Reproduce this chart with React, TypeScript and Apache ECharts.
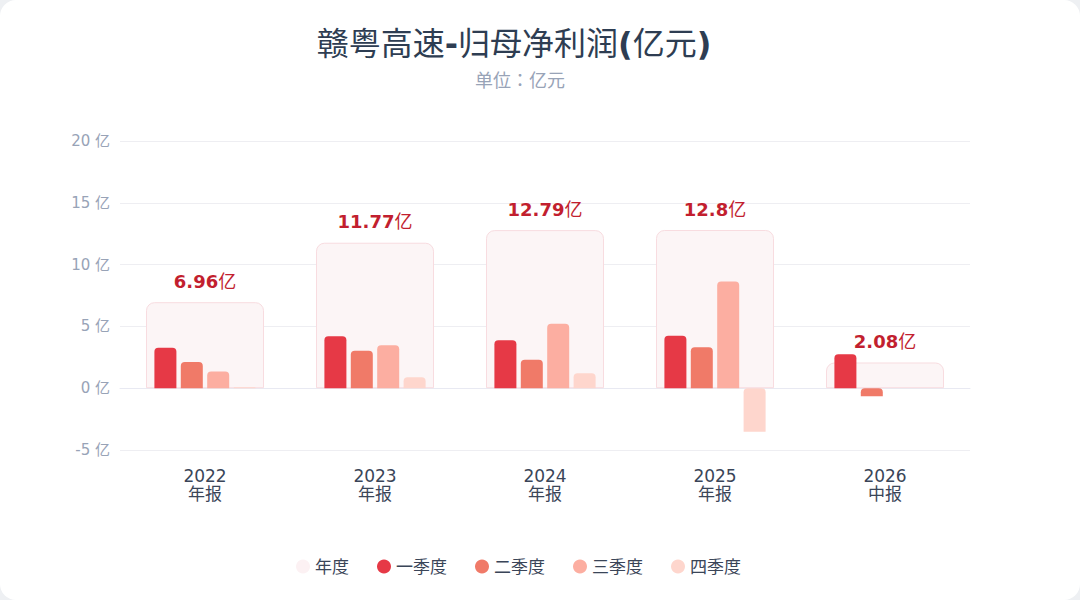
import React, { useEffect, useRef } from "react";
import * as echarts from "echarts";

const categories = ["2022\n年报", "2023\n年报", "2024\n年报", "2025\n年报", "2026\n中报"];
const annual = [6.96, 11.77, 12.79, 12.8, 2.08];
const q1 = [3.28, 4.2, 3.87, 4.25, 2.74];
const q2 = [2.12, 3.04, 2.31, 3.31, -0.66];
const q3 = [1.35, 3.47, 5.22, 8.63, null];
const q4 = [0.08, 0.89, 1.21, -3.52, null];
const yTicks = { min: -5, max: 20, interval: 5 };

export default function App() {
  const ref = useRef<HTMLDivElement>(null);
  useEffect(() => {
    document.body.style.margin = "0";
    document.body.style.background = "#eef0f3";
    const chart = echarts.init(ref.current!, undefined, { renderer: "svg" });
    const font = "'DejaVu Sans', 'Noto Sans CJK JP', sans-serif";
    const qBar = (name: string, data: (number | null)[], color: string) => ({
      name,
      type: "bar",
      xAxisIndex: 0,
      data,
      barWidth: 22,
      barGap: "20%",
      z: 3,
      itemStyle: { color, borderRadius: [4, 4, 0, 0] },
    });
    const titleColor = "#2e3d52";
    const labelColor = "#c21f2f";
    chart.setOption({
      animation: false,
      textStyle: { fontFamily: font },
      title: [
        {
          text: "{n|赣粤高速}{b|-}{n|归母净利润}{b|(}{n|亿元}{b|)}",
          left: 509,
          textAlign: "center",
          top: 23,
          textStyle: {
            fontSize: 32,
            color: titleColor,
            fontFamily: font,
            rich: {
              n: { fontSize: 32, color: titleColor, fontWeight: "normal", fontFamily: font },
              b: { fontSize: 32, color: titleColor, fontWeight: "bold", fontFamily: font },
            },
          },
        },
        {
          text: "单位：亿元",
          left: 515,
          textAlign: "center",
          top: 66,
          textStyle: { fontSize: 18, color: "#98a3b7", fontWeight: "normal", fontFamily: font },
        },
      ],
      legend: {
        bottom: 20,
        left: 291,
        icon: "circle",
        itemWidth: 14,
        itemHeight: 14,
        itemGap: 28,
        textStyle: { fontSize: 17, color: "#3a4558", fontFamily: font },
        data: [
          { name: "年度", itemStyle: { color: "#fcf1f3", borderWidth: 0 } },
          "一季度",
          "二季度",
          "三季度",
          "四季度",
        ],
      },
      grid: { left: 120, right: 110, top: 141, bottom: 150 },
      xAxis: [
        {
          type: "category",
          data: categories,
          axisTick: { show: false },
          axisLine: { lineStyle: { color: "#e8e9f2" } },
          axisLabel: { fontSize: 17, lineHeight: 18, color: "#3a4558", margin: 17, fontFamily: font },
        },
        { type: "category", data: categories, show: false },
      ],
      yAxis: {
        type: "value",
        ...yTicks,
        axisLabel: { formatter: "{value} 亿", fontSize: 15, color: "#98a3b7", margin: 10, fontFamily: font },
        splitLine: { lineStyle: { color: "#eeeef2" } },
        axisLine: { show: false },
        axisTick: { show: false },
      },
      series: [
        {
          name: "年度",
          type: "bar",
          xAxisIndex: 1,
          data: annual,
          barWidth: 118,
          z: 1,
          itemStyle: {
            color: "#fcf5f6",
            borderColor: "#f8dce0",
            borderWidth: 1,
            borderRadius: [8, 8, 0, 0],
          },
          label: {
            show: true,
            position: "top",
            distance: 12,
            formatter: (p: any) => `{v|${p.value}}{u|亿}`,
            fontSize: 18,
            color: labelColor,
            fontFamily: font,
            rich: {
              v: { fontSize: 18, fontWeight: "bold", color: labelColor, fontFamily: font },
              u: { fontSize: 18, fontWeight: "normal", color: labelColor, fontFamily: font },
            },
          },
        },
        qBar("一季度", q1, "#e63946"),
        qBar("二季度", q2, "#f07a68"),
        qBar("三季度", q3, "#fcaea1"),
        qBar("四季度", q4, "#fed6cd"),
      ],
      color: ["#fcf1f3", "#e63946", "#f07a68", "#fcaea1", "#fed6cd"],
    });
    return () => chart.dispose();
  }, []);
  return (
    <div style={{ width: 1080, height: 600, background: "#fff", borderRadius: 16, overflow: "hidden" }}>
      <div ref={ref} style={{ width: 1080, height: 600 }} />
    </div>
  );
}
